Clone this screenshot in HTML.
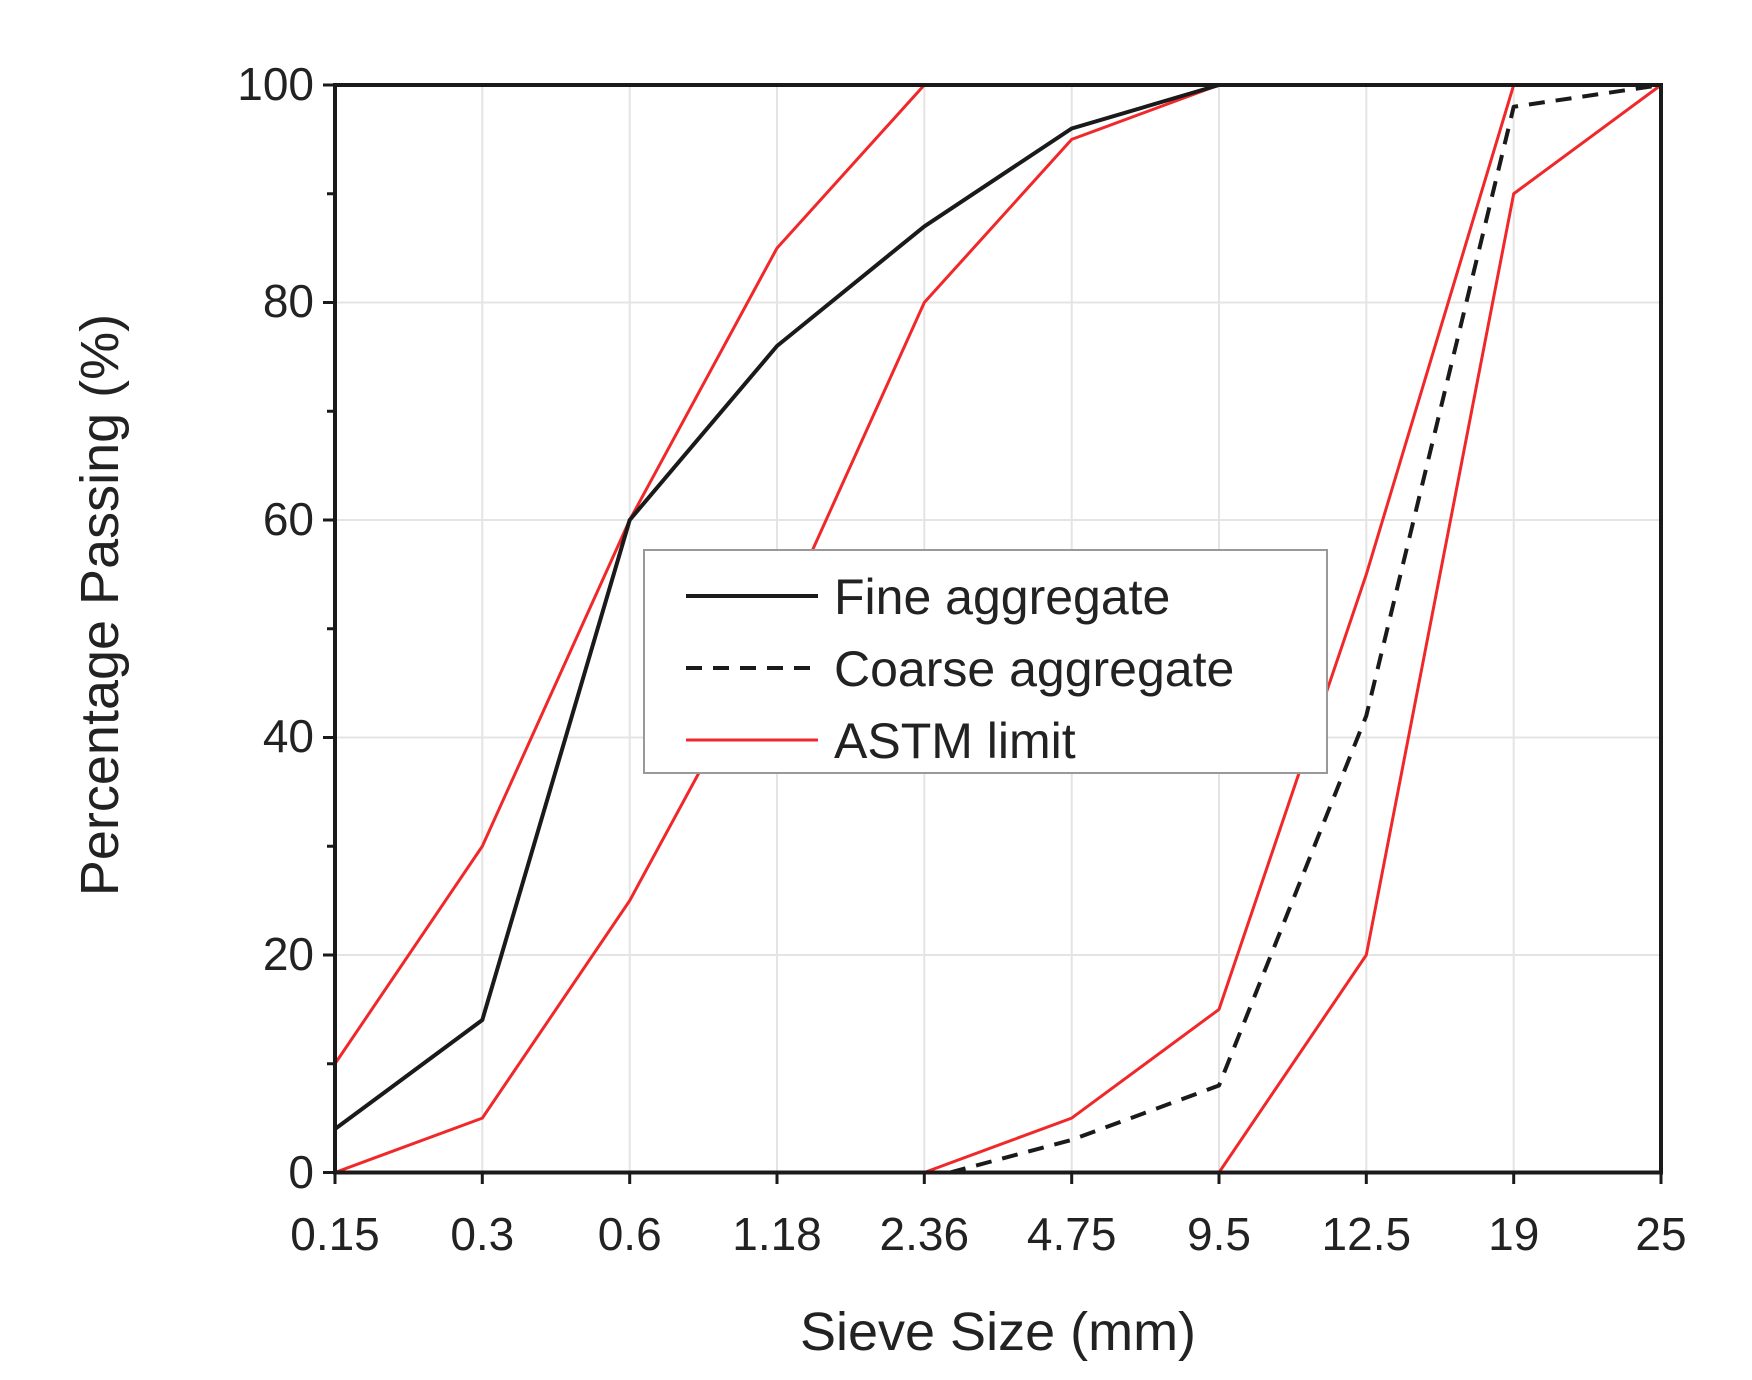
<!DOCTYPE html>
<html><head><style>body{margin:0;background:#fff}svg{display:block}text{font-family:"Liberation Sans",Arial,sans-serif;fill:#222}</style></head>
<body>
<svg width="1752" height="1380" viewBox="0 0 1752 1380">
<g stroke="#e4e4e4" stroke-width="2">
<line x1="482.3" y1="85" x2="482.3" y2="1172"/><line x1="629.7" y1="85" x2="629.7" y2="1172"/><line x1="777" y1="85" x2="777" y2="1172"/><line x1="924.3" y1="85" x2="924.3" y2="1172"/><line x1="1071.7" y1="85" x2="1071.7" y2="1172"/><line x1="1219" y1="85" x2="1219" y2="1172"/><line x1="1366.3" y1="85" x2="1366.3" y2="1172"/><line x1="1513.7" y1="85" x2="1513.7" y2="1172"/>
<line x1="335" y1="302.5" x2="1661" y2="302.5"/><line x1="335" y1="520" x2="1661" y2="520"/><line x1="335" y1="737.5" x2="1661" y2="737.5"/><line x1="335" y1="955" x2="1661" y2="955"/>
</g>
<g fill="none" stroke-linejoin="round">
<polyline stroke="#f0282a" stroke-width="3" points="335,1063.75 482.3,846.25 629.7,520 777,248.1 924.3,85 1071.7,85 1219,85"/>
<polyline stroke="#f0282a" stroke-width="3" points="335,1172.5 482.3,1118.1 629.7,900.6 777,628.75 924.3,302.5 1071.7,139.4 1219,85"/>
<polyline stroke="#f0282a" stroke-width="3" points="924.3,1172.5 1071.7,1118.1 1219,1009.4 1366.3,574.4 1513.7,85 1661,85"/>
<polyline stroke="#f0282a" stroke-width="3" points="924.3,1172.5 1071.7,1172.5 1219,1172.5 1366.3,955 1513.7,193.75 1661,85"/>
<polyline stroke="#1a1a1a" stroke-width="4" points="335,1129 482.3,1020 629.7,520 777,346 924.3,226.4 1071.7,128.5 1219,85"/>
<polyline stroke="#1a1a1a" stroke-width="4" stroke-dasharray="16,11" points="950,1172.5 1071.7,1139.9 1219,1085.5 1366.3,715.75 1513.7,106.75 1661,85"/>
</g>
<rect x="335" y="85" width="1326" height="1087.5" fill="none" stroke="#1a1a1a" stroke-width="4"/>
<g stroke="#1a1a1a" stroke-width="3">
<line x1="323" y1="85" x2="335" y2="85"/><line x1="327" y1="193.75" x2="335" y2="193.75"/><line x1="323" y1="302.5" x2="335" y2="302.5"/><line x1="327" y1="411.25" x2="335" y2="411.25"/><line x1="323" y1="520" x2="335" y2="520"/><line x1="327" y1="628.75" x2="335" y2="628.75"/><line x1="323" y1="737.5" x2="335" y2="737.5"/><line x1="327" y1="846.25" x2="335" y2="846.25"/><line x1="323" y1="955" x2="335" y2="955"/><line x1="327" y1="1063.75" x2="335" y2="1063.75"/><line x1="323" y1="1172.5" x2="335" y2="1172.5"/>
<line x1="335" y1="1172" x2="335" y2="1184"/><line x1="482.3" y1="1172" x2="482.3" y2="1184"/><line x1="629.7" y1="1172" x2="629.7" y2="1184"/><line x1="777" y1="1172" x2="777" y2="1184"/><line x1="924.3" y1="1172" x2="924.3" y2="1184"/><line x1="1071.7" y1="1172" x2="1071.7" y2="1184"/><line x1="1219" y1="1172" x2="1219" y2="1184"/><line x1="1366.3" y1="1172" x2="1366.3" y2="1184"/><line x1="1513.7" y1="1172" x2="1513.7" y2="1184"/><line x1="1661" y1="1172" x2="1661" y2="1184"/>
</g>
<g font-size="46" text-anchor="end">
<text x="314" y="100">100</text><text x="314" y="317">80</text><text x="314" y="535">60</text><text x="314" y="752">40</text><text x="314" y="970">20</text><text x="314" y="1188">0</text>
</g>
<g font-size="46" text-anchor="middle">
<text x="335" y="1250">0.15</text><text x="482.3" y="1250">0.3</text><text x="629.7" y="1250">0.6</text><text x="777" y="1250">1.18</text><text x="924.3" y="1250">2.36</text><text x="1071.7" y="1250">4.75</text><text x="1219" y="1250">9.5</text><text x="1366.3" y="1250">12.5</text><text x="1513.7" y="1250">19</text><text x="1661" y="1250">25</text>
</g>
<text x="998" y="1350" font-size="54" text-anchor="middle">Sieve Size (mm)</text>
<text transform="translate(118,605) rotate(-90)" font-size="54" text-anchor="middle">Percentage Passing (%)</text>
<rect x="644" y="550" width="683" height="223" fill="#fff" stroke="#999" stroke-width="2"/>
<line x1="686" y1="596" x2="818" y2="596" stroke="#1a1a1a" stroke-width="4"/>
<line x1="686" y1="668" x2="818" y2="668" stroke="#1a1a1a" stroke-width="4" stroke-dasharray="16,11"/>
<line x1="686" y1="740" x2="818" y2="740" stroke="#f0282a" stroke-width="3"/>
<g font-size="50"><text x="834" y="614">Fine aggregate</text><text x="834" y="686">Coarse aggregate</text><text x="834" y="758">ASTM limit</text></g>
</svg>
</body></html>
